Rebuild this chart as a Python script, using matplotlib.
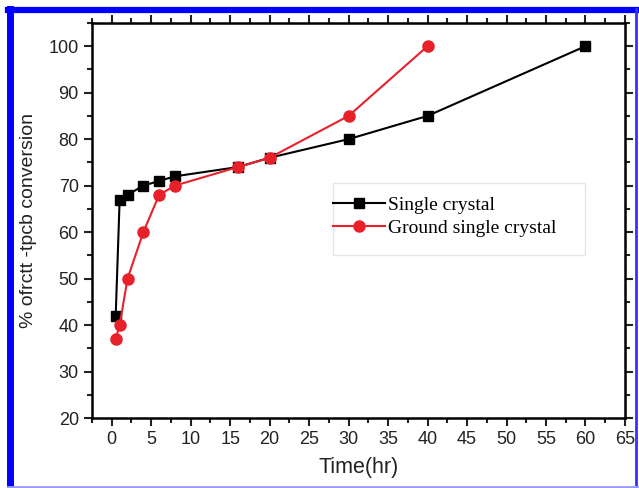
import matplotlib.pyplot as plt
from matplotlib.patches import Rectangle
from matplotlib.lines import Line2D

plt.rcParams['font.family'] = ['Liberation Sans', 'DejaVu Sans']

# data
t_single = [0.5, 1, 2, 4, 6, 8, 16, 20, 30, 40, 60]
conv_single = [42, 67, 68, 70, 71, 72, 74, 76, 80, 85, 100]
t_ground = [0.5, 1, 2, 4, 6, 8, 16, 20, 30, 40]
conv_ground = [37, 40, 50, 60, 68, 70, 74, 76, 85, 100]
xticks = list(range(0, 66, 5))
yticks = list(range(20, 101, 10))

fig = plt.figure(figsize=(6.39, 4.88), dpi=100)
ax = fig.add_axes([0.144, 0.1434, 0.834, 0.8096])

ax.plot(t_single, conv_single, color='black', marker='s', ms=7, lw=1.5,
        label='Single crystal')
ax.plot(t_ground, conv_ground, color='#e8202a', marker='o', ms=8, lw=1.5,
        label='Ground single crystal')

ax.set_xlim(-2.5, 65)
ax.set_ylim(20, 105)
ax.set_xticks(xticks)
ax.set_yticks(yticks)
ax.set_xticks([x + 2.5 for x in xticks[:-1]] + [-2.5], minor=True)
ax.set_yticks([y + 5 for y in yticks], minor=True)
ax.tick_params(which='both', direction='out', top=True, right=True,
               labelsize=13, width=1.5, colors='#222222')
ax.tick_params(which='major', length=6)
ax.tick_params(which='minor', length=3.5)
for s in ax.spines.values():
    s.set_linewidth(1.8)

ax.set_xlabel('Time(hr)', fontsize=15.5, labelpad=6, color='#222222')
ax.set_ylabel('% ofrctt -tpcb conversion', fontsize=14, labelpad=8, color='#222222')

# legend box drawn separately (it is larger than its contents)
ax.add_patch(Rectangle((0.452, 0.413), 0.473, 0.182, transform=ax.transAxes,
                       fill=False, edgecolor='#e6e6e6', lw=1))
ax.legend(loc='upper left', bbox_to_anchor=(0.452, 0.562), frameon=False,
          prop={'family': 'Liberation Serif', 'size': 14},
          handlelength=2.7, handletextpad=0.15, borderpad=0, borderaxespad=0,
          labelspacing=0.3)

# blue frame around the figure: heavy top/left, thin right/bottom
fig.add_artist(Line2D([0.0164, 0.0164], [0.0, 0.982], color='#0000ff', lw=5))
fig.add_artist(Line2D([0.012, 0.998], [0.9805, 0.9805], color='#0000ff', lw=4.5))
fig.add_artist(Line2D([0.996, 0.996], [0.0, 0.982], color='#3333ff', lw=2))
fig.add_artist(Line2D([0.012, 0.998], [0.003, 0.003], color='#9999ff', lw=2))

fig.savefig('out.png', dpi=100)
